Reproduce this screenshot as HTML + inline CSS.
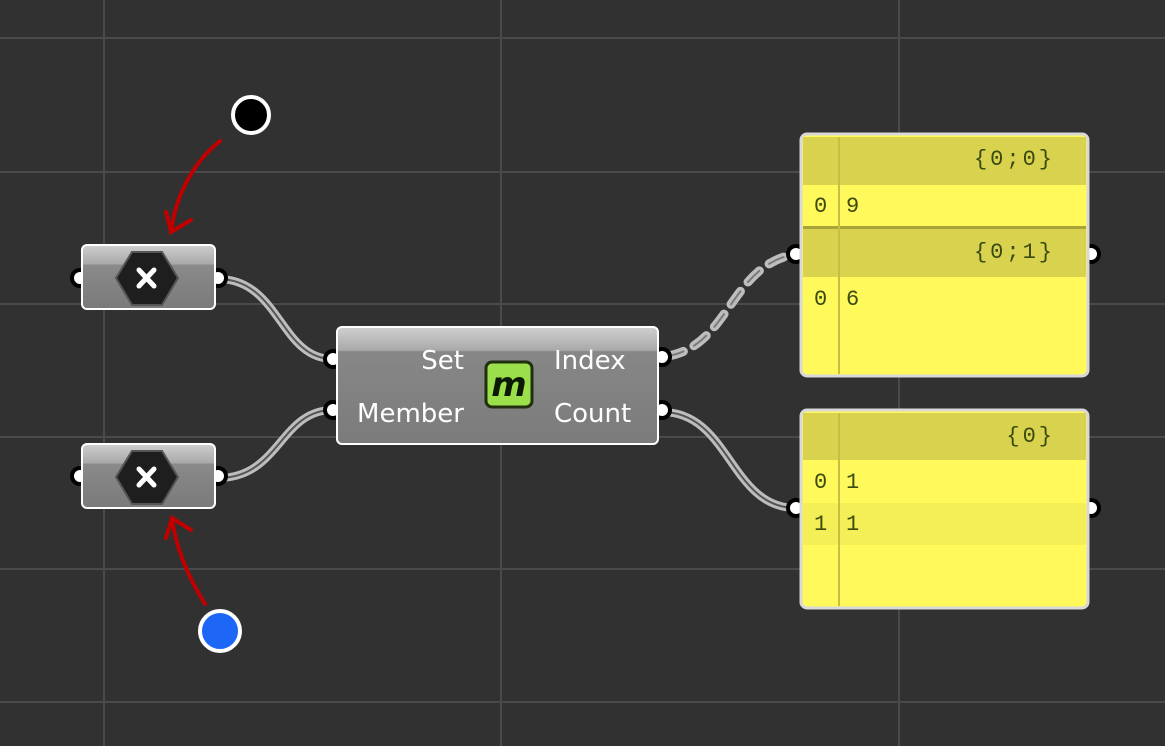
<!DOCTYPE html>
<html><head><style>
html,body{margin:0;padding:0;background:#313131;}
svg{display:block}
text{font-family:"DejaVu Sans","Liberation Sans",sans-serif;}
.mono{font-family:"Liberation Mono","DejaVu Sans Mono",monospace;fill:#3a4a10;font-size:22px;letter-spacing:3px}
</style></head><body>
<svg width="1165" height="746" viewBox="0 0 1165 746" xmlns="http://www.w3.org/2000/svg">
<defs>
<linearGradient id="g1" x1="0" y1="0" x2="0" y2="1">
<stop offset="0" stop-color="#cfcfcf"/><stop offset="0.3" stop-color="#a8a8a8"/><stop offset="0.31" stop-color="#8a8a8a"/><stop offset="1" stop-color="#7a7a7a"/>
</linearGradient>
<linearGradient id="g2" x1="0" y1="0" x2="0" y2="1">
<stop offset="0" stop-color="#d0d0d0"/><stop offset="0.2" stop-color="#a9a9a9"/><stop offset="0.21" stop-color="#878787"/><stop offset="1" stop-color="#7b7b7b"/>
</linearGradient>
</defs>
<rect width="1165" height="746" fill="#313131"/>
<g stroke="#4a4a4a" stroke-width="2">
<line x1="104" y1="0" x2="104" y2="746"/><line x1="501" y1="0" x2="501" y2="746"/><line x1="899" y1="0" x2="899" y2="746"/>
<line x1="0" y1="38" x2="1165" y2="38"/><line x1="0" y1="172" x2="1165" y2="172"/><line x1="0" y1="304" x2="1165" y2="304"/>
<line x1="0" y1="437" x2="1165" y2="437"/><line x1="0" y1="569" x2="1165" y2="569"/><line x1="0" y1="702" x2="1165" y2="702"/>
</g>
<g fill="none">
<path d="M218,279 C280,279 280,359 333,359" stroke="#bdbdbd" stroke-width="8"/>
<path d="M218,279 C280,279 280,359 333,359" stroke="#555" stroke-width="2"/>
<path d="M218,478 C280,478 280,410 333,410" stroke="#bdbdbd" stroke-width="8"/>
<path d="M218,478 C280,478 280,410 333,410" stroke="#555" stroke-width="2"/>
<path d="M662,412 C730,412 730,508 796,508" stroke="#bdbdbd" stroke-width="8"/>
<path d="M662,412 C730,412 730,508 796,508" stroke="#555" stroke-width="2"/>
<path d="M668,356 C730,345 730,265 796,254" stroke="#bdbdbd" stroke-width="9" stroke-dasharray="16,12" stroke-linecap="round"/>
<path d="M668,356 C730,345 730,265 796,254" stroke="#7a7a7a" stroke-width="2" stroke-dasharray="16,12" stroke-linecap="round"/>
</g>
<g fill="none" stroke="#c00000" stroke-width="4" stroke-linecap="round">
<path d="M220,141 C190,165 175,200 171,232"/><path d="M166,212 L171,232 L191,220"/>
<path d="M205,604 C190,580 176,550 172,518"/><path d="M166,538 L172,518 L191,530"/>
</g>
<circle cx="251" cy="115" r="18" fill="#000" stroke="#fff" stroke-width="4"/>
<circle cx="220" cy="631" r="20" fill="#1e66f5" stroke="#fff" stroke-width="4"/>
<g>
<circle cx="80" cy="278" r="8" fill="#fff" stroke="#000" stroke-width="4"/>
<circle cx="218" cy="278" r="8" fill="#fff" stroke="#000" stroke-width="4"/>
<rect x="82" y="245" width="133" height="64" rx="5" fill="url(#g1)" stroke="#fff" stroke-width="2"/>
<polygon points="132,252 162,252 178,278 162,305 132,305 116,278" fill="#1e1e1e" stroke="#555" stroke-width="2"/>
<path d="M139,270 L154,286 M154,270 L139,286" stroke="#fff" stroke-width="5" stroke-linecap="round"/>
<circle cx="80" cy="476" r="8" fill="#fff" stroke="#000" stroke-width="4"/>
<circle cx="218" cy="476" r="8" fill="#fff" stroke="#000" stroke-width="4"/>
<rect x="82" y="444" width="133" height="64" rx="5" fill="url(#g1)" stroke="#fff" stroke-width="2"/>
<polygon points="132,451 162,451 178,477 162,504 132,504 116,477" fill="#1e1e1e" stroke="#555" stroke-width="2"/>
<path d="M139,469 L154,485 M154,469 L139,485" stroke="#fff" stroke-width="5" stroke-linecap="round"/>
</g>
<circle cx="333" cy="359" r="8" fill="#fff" stroke="#000" stroke-width="4"/>
<circle cx="333" cy="410" r="8" fill="#fff" stroke="#000" stroke-width="4"/>
<circle cx="662" cy="357" r="8" fill="#fff" stroke="#000" stroke-width="4"/>
<circle cx="662" cy="410" r="8" fill="#fff" stroke="#000" stroke-width="4"/>
<rect x="337" y="327" width="321" height="117" rx="5" fill="url(#g2)" stroke="#fff" stroke-width="2"/>
<text x="464" y="369" fill="#fff" font-size="26" text-anchor="end">Set</text>
<text x="464" y="422" fill="#fff" font-size="26" text-anchor="end">Member</text>
<text x="554" y="369" fill="#fff" font-size="26">Index</text>
<text x="554" y="422" fill="#fff" font-size="26">Count</text>
<rect x="486" y="362" width="46" height="45" rx="6" fill="#9be04a" stroke="#1f2f10" stroke-width="3"/>
<text x="509" y="396" fill="#0c1a05" font-size="34" font-style="italic" font-weight="bold" text-anchor="middle" font-family="Liberation Serif,serif">m</text>
<circle cx="796" cy="254" r="8" fill="#fff" stroke="#000" stroke-width="4"/>
<circle cx="1091" cy="254" r="8" fill="#fff" stroke="#000" stroke-width="4"/>
<rect x="801" y="134" width="287" height="242" rx="6" fill="#fff95c" stroke="#d8d8d8" stroke-width="3"/>
<rect x="803" y="137" width="283" height="48" fill="#d8d24e"/>
<rect x="803" y="226" width="283" height="3" fill="#a8a33a"/>
<rect x="803" y="229" width="283" height="48" fill="#d8d24e"/>
<line x1="839" y1="137" x2="839" y2="374" stroke="#c5bf45" stroke-width="2"/>
<text class="mono" x="1055" y="165" text-anchor="end">{0;0}</text>
<text class="mono" x="814" y="212">0</text><text class="mono" x="846" y="212">9</text>
<text class="mono" x="1055" y="258" text-anchor="end">{0;1}</text>
<text class="mono" x="814" y="305">0</text><text class="mono" x="846" y="305">6</text>
<circle cx="796" cy="508" r="8" fill="#fff" stroke="#000" stroke-width="4"/>
<circle cx="1091" cy="508" r="8" fill="#fff" stroke="#000" stroke-width="4"/>
<rect x="801" y="410" width="287" height="198" rx="6" fill="#fff95c" stroke="#d8d8d8" stroke-width="3"/>
<rect x="803" y="413" width="283" height="47" fill="#d8d24e"/>
<rect x="803" y="503" width="283" height="42" fill="#f4ef56"/>
<line x1="839" y1="413" x2="839" y2="606" stroke="#c5bf45" stroke-width="2"/>
<text class="mono" x="1055" y="442" text-anchor="end">{0}</text>
<text class="mono" x="814" y="488">0</text><text class="mono" x="846" y="488">1</text>
<text class="mono" x="814" y="530">1</text><text class="mono" x="846" y="530">1</text>
</svg>
</body></html>
